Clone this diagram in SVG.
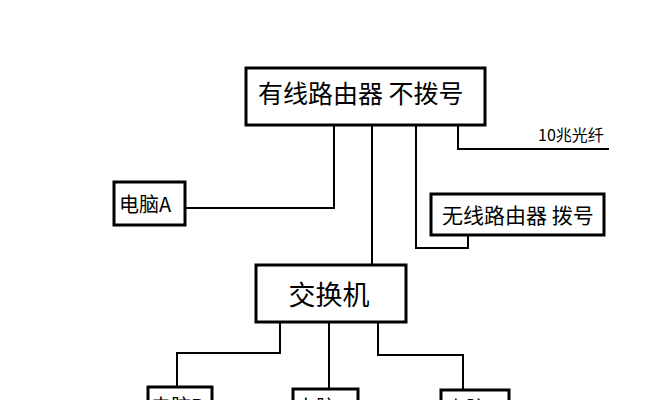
<svg xmlns="http://www.w3.org/2000/svg" width="665" height="400" viewBox="0 0 665 400">
<style>
.box{fill:#fff;stroke:#000;stroke-width:3}
.ln{fill:none;stroke:#000;stroke-width:2}
text{font-family:"Noto Sans CJK SC","Noto Sans",sans-serif;fill:#000}
</style>
<rect width="665" height="400" fill="#fff"/>
<g id="connectors">
<polyline class="ln" points="334,126 334,208 185,208"/>
<polyline class="ln" points="372,126 372,265"/>
<polyline class="ln" points="416,126 416,248 468,248 468,235"/>
<polyline class="ln" points="458,126 458,149 609,149"/>
<polyline class="ln" points="280,322 280,353 177,353 177,387"/>
<polyline class="ln" points="329,322 329,388"/>
<polyline class="ln" points="378,322 378,355 463,355 463,389"/>
</g>
<text x="538" y="141" font-size="16">10兆光纤</text>
<g id="router">
<rect class="box" x="246" y="68" width="239" height="57"/>
<text x="258" y="103" font-size="25">有线路由器 不拨号</text>
</g>
<g id="pcA">
<rect class="box" x="114" y="182" width="71" height="43"/>
<text x="119" y="212" font-size="20">电脑A</text>
</g>
<g id="wireless">
<rect class="box" x="431" y="194" width="173" height="41"/>
<text x="442" y="223" font-size="21">无线路由器 拨号</text>
</g>
<g id="switch">
<rect class="box" x="256" y="265" width="150" height="57"/>
<text x="329" y="305" font-size="27" text-anchor="middle">交换机</text>
</g>
<g id="pcB">
<rect class="box" x="148" y="387" width="64" height="40"/>
<text x="151" y="414" font-size="20">电脑B</text>
</g>
<g id="pcC">
<rect class="box" x="293" y="389" width="65" height="40"/>
<text x="296" y="415" font-size="20">电脑C</text>
</g>
<g id="pcD">
<rect class="box" x="441" y="390" width="68" height="40"/>
<text x="446" y="416" font-size="20">电脑D</text>
</g>
</svg>
